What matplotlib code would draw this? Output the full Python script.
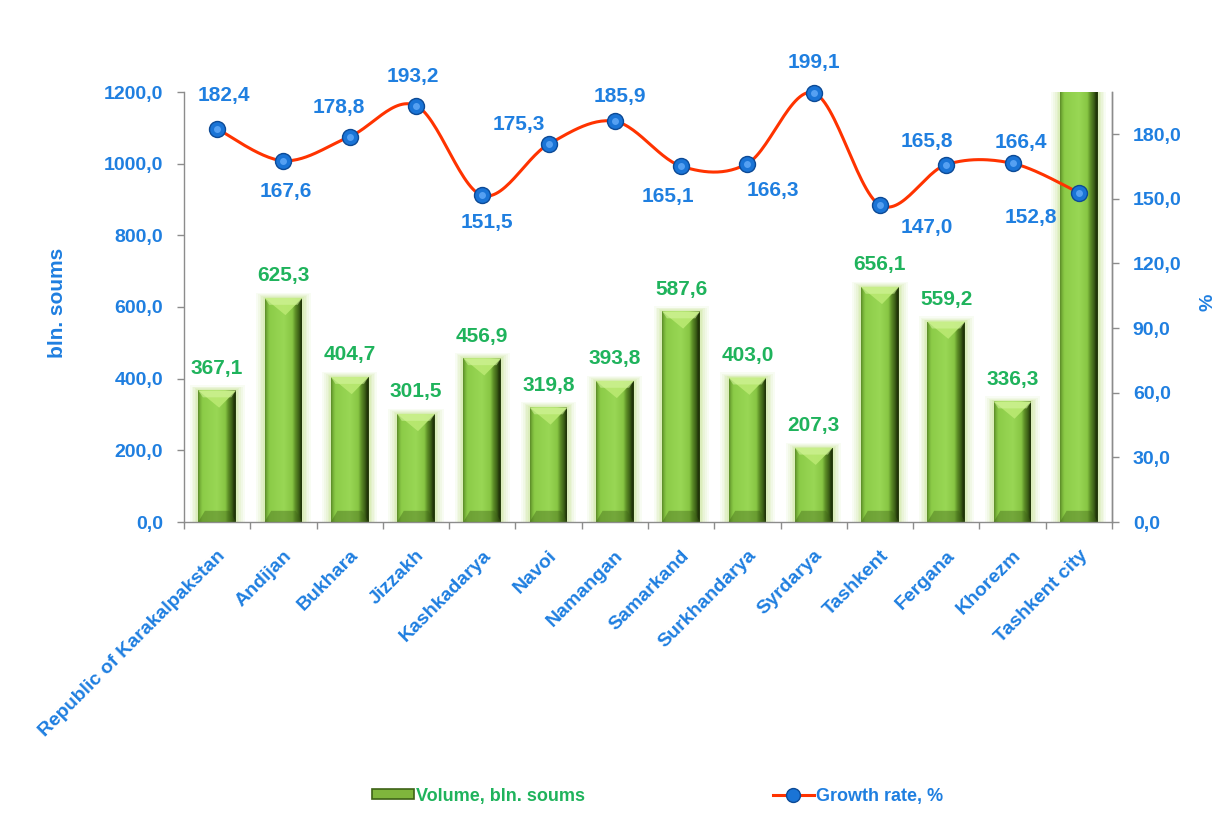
import numpy as np
import matplotlib
matplotlib.use('Agg')
import matplotlib.pyplot as plt
from matplotlib.patches import Polygon, Patch, Rectangle
from matplotlib.lines import Line2D
from matplotlib.colors import LinearSegmentedColormap
from matplotlib.ticker import FuncFormatter, FixedLocator

# ---------------- data ----------------
regions = ["Republic of Karakalpakstan", "Andijan", "Bukhara", "Jizzakh", "Kashkadarya",
           "Navoi", "Namangan", "Samarkand", "Surkhandarya", "Syrdarya", "Tashkent",
           "Fergana", "Khorezm", "Tashkent city"]
volume = [367.1, 625.3, 404.7, 301.5, 456.9, 319.8, 393.8, 587.6, 403.0, 207.3,
          656.1, 559.2, 336.3, 1450.0]
volume_labels = ["367,1", "625,3", "404,7", "301,5", "456,9", "319,8", "393,8", "587,6",
                 "403,0", "207,3", "656,1", "559,2", "336,3", ""]
growth = [182.4, 167.6, 178.8, 193.2, 151.5, 175.3, 185.9, 165.1, 166.3, 199.1,
          147.0, 165.8, 166.4, 152.8]
left_ticks = [0, 200, 400, 600, 800, 1000, 1200]
right_ticks = [0, 30, 60, 90, 120, 150, 180]

# label offsets (pixels) for growth labels
growth_offsets = [(7, 33), (2, -31), (-11, 29), (-3, 29), (5, -27), (-30, 20), (5, 25),
                  (-13, -30), (25, -27), (0, 30), (47, -22), (-19, 23), (8, 21), (-48, -25)]

BLUE = '#1f7fe0'
GREEN_TXT = '#1fb35c'
RED = '#ff3300'
FONT = 'Liberation Sans'

plt.rcParams['font.family'] = [FONT, 'DejaVu Sans']

fig = plt.figure(figsize=(12.18, 8.25), dpi=100)
ax = fig.add_axes([184 / 1218, 1 - 522 / 825, (1112 - 184) / 1218, (522 - 92) / 825])
ax2 = ax.twinx()

n = len(regions)
x = np.arange(n)
w = 0.57
ax.set_xlim(-0.5, n - 0.5)
ax.set_ylim(0, 1200)
ax2.set_ylim(0, 199.5)

# ---------------- bars ----------------
bar_cmap = LinearSegmentedColormap.from_list('bar', [
    (0.00, '#5a8a28'), (0.06, '#79b43a'), (0.12, '#8ccc48'), (0.50, '#99d755'),
    (0.72, '#88c644'), (0.80, '#5e9028'), (0.90, '#3b5e16'), (0.96, '#1e3008'),
    (1.00, '#2c4510')])
grad = np.linspace(0, 1, 256).reshape(1, -1)

bevel = 48  # data units (~17 px)
for i, (xi, h) in enumerate(zip(x, volume)):
    # soft glow
    for k, a in zip([0.13, 0.10, 0.075, 0.05, 0.03], [0.10, 0.12, 0.15, 0.18, 0.22]):
        ax.add_patch(Rectangle((xi - w / 2 - k, 0), w + 2 * k, h + k * 110,
                               facecolor='#c3e38a', edgecolor='none', alpha=a, zorder=1))
    clip = Polygon([(xi - w / 2, 0), (xi + w / 2, 0), (xi + w / 2, h), (xi - w / 2, h)],
                   closed=True, facecolor='none', edgecolor='none', zorder=2)
    ax.add_patch(clip)
    im = ax.imshow(grad, cmap=bar_cmap, aspect='auto', extent=[xi - w / 2, xi + w / 2, 0, h],
                   zorder=2, interpolation='bilinear')
    im.set_clip_path(clip)
    im.set_clip_box(ax.bbox)
    # top bevel (light triangle)
    ax.add_patch(Polygon([(xi - w / 2, h), (xi + w / 2, h), (xi + 0.03, h - bevel)],
                         closed=True, facecolor='#b8e870', edgecolor='none', alpha=0.95, zorder=3))
    ax.add_patch(Polygon([(xi - w / 2, h), (xi - w / 2 + 0.07, h - bevel * 0.4),
                          (xi + w / 2 - 0.07, h - bevel * 0.4), (xi + w / 2, h)],
                         closed=True, facecolor='#d6f5a0', edgecolor='none', alpha=0.55, zorder=3))
    # bottom bevel
    ax.add_patch(Polygon([(xi - w / 2, 0), (xi + w / 2, 0), (xi + w / 2 - 0.1, bevel * 0.65),
                          (xi - w / 2 + 0.1, bevel * 0.65)],
                         closed=True, facecolor='#3e6216', edgecolor='none', alpha=0.4, zorder=3))
    if volume_labels[i]:
        ax.annotate(volume_labels[i], (xi, h), xytext=(0, 22), textcoords='offset pixels',
                    ha='center', va='center', color=GREEN_TXT, fontsize=15,
                    fontweight='bold', zorder=5)

# ---------------- line ----------------
def catmull(xs, ys, steps=30):
    P = np.column_stack([xs, ys]).astype(float)
    out = []
    for i in range(len(P) - 1):
        p0 = P[i - 1] if i > 0 else P[i]
        p1, p2 = P[i], P[i + 1]
        p3 = P[i + 2] if i + 2 < len(P) else P[i + 1]
        t = np.linspace(0, 1, steps)[:, None]
        seg = 0.5 * ((2 * p1) + (-p0 + p2) * t + (2 * p0 - 5 * p1 + 4 * p2 - p3) * t ** 2
                     + (-p0 + 3 * p1 - 3 * p2 + p3) * t ** 3)
        out.append(seg if i == 0 else seg[1:])
    out = np.vstack(out)
    return out[:, 0], out[:, 1]

sx, sy = catmull(x, growth)
ax2.plot(sx, sy, color=RED, lw=2.2, zorder=3, solid_capstyle='round', clip_on=False)
ax2.plot(x, growth, linestyle='none', marker='o', ms=11.5, mfc='#1a74d6', mec='#0c4a96',
         mew=1.0, zorder=4, clip_on=False)
ax2.plot(x, growth, linestyle='none', marker='o', ms=5, mfc='#6fb4ff', mec='none',
         alpha=0.7, zorder=5, clip_on=False)
for xi, g, (dx, dy) in zip(x, growth, growth_offsets):
    ax2.annotate(f"{g:.1f}".replace('.', ','), (xi, g), xytext=(dx, dy),
                 textcoords='offset pixels', ha='center', va='center', color=BLUE,
                 fontsize=15, fontweight='bold', zorder=6)

# ---------------- axes styling ----------------
fmt = FuncFormatter(lambda v, p: f"{v:.1f}".replace('.', ','))
ax.yaxis.set_major_locator(FixedLocator(left_ticks))
ax.yaxis.set_major_formatter(fmt)
ax2.yaxis.set_major_locator(FixedLocator(right_ticks))
ax2.yaxis.set_major_formatter(fmt)

for a in (ax, ax2):
    a.spines['top'].set_visible(False)
    for s in a.spines.values():
        s.set_color('#8c8c8c')
        s.set_linewidth(1.0)
ax2.spines['left'].set_visible(False)
ax2.spines['bottom'].set_visible(False)

ax.tick_params(axis='y', direction='out', length=5, width=1, color='#8c8c8c', pad=10,
               labelsize=14, labelcolor=BLUE)
ax2.tick_params(axis='y', direction='out', length=5, width=1, color='#8c8c8c', pad=10,
                labelsize=14, labelcolor=BLUE)
for lbl in ax.get_yticklabels() + ax2.get_yticklabels():
    lbl.set_fontweight('bold')

ax.set_xticks(x)
ax.set_xticks(np.arange(-0.5, n, 1.0), minor=True)
ax.tick_params(axis='x', which='major', length=0, pad=18)
ax.tick_params(axis='x', which='minor', length=5, width=1, color='#8c8c8c')
ax.set_xticklabels(regions, rotation=45, ha='right', va='top', rotation_mode='anchor',
                   color=BLUE, fontsize=14, fontweight='bold')

ax.set_ylabel('bln. soums', color=BLUE, fontsize=15, fontweight='bold')
ax.yaxis.set_label_coords(-0.126, 0.51)
ax2.set_ylabel('%', color=BLUE, fontsize=14, fontweight='bold')
ax2.yaxis.set_label_coords(1.094, 0.51)

# ---------------- legend ----------------
handles = [Patch(facecolor='#7fb63c', edgecolor='#3e6216', linewidth=1.2),
           Line2D([0], [0], color=RED, lw=2.2, marker='o', ms=10, mfc='#1a74d6', mec='#0c4a96')]
leg = fig.legend(handles, ['Volume, bln. soums', 'Growth rate, %'], loc='center',
                 bbox_to_anchor=(0.540, 0.035), ncol=2, frameon=False, fontsize=13,
                 columnspacing=10.4, handlelength=2.3, handletextpad=0.1,
                 handleheight=0.5)
for t, c in zip(leg.get_texts(), [GREEN_TXT, BLUE]):
    t.set_color(c)
    t.set_fontweight('bold')

fig.savefig('out.png', dpi=100)
